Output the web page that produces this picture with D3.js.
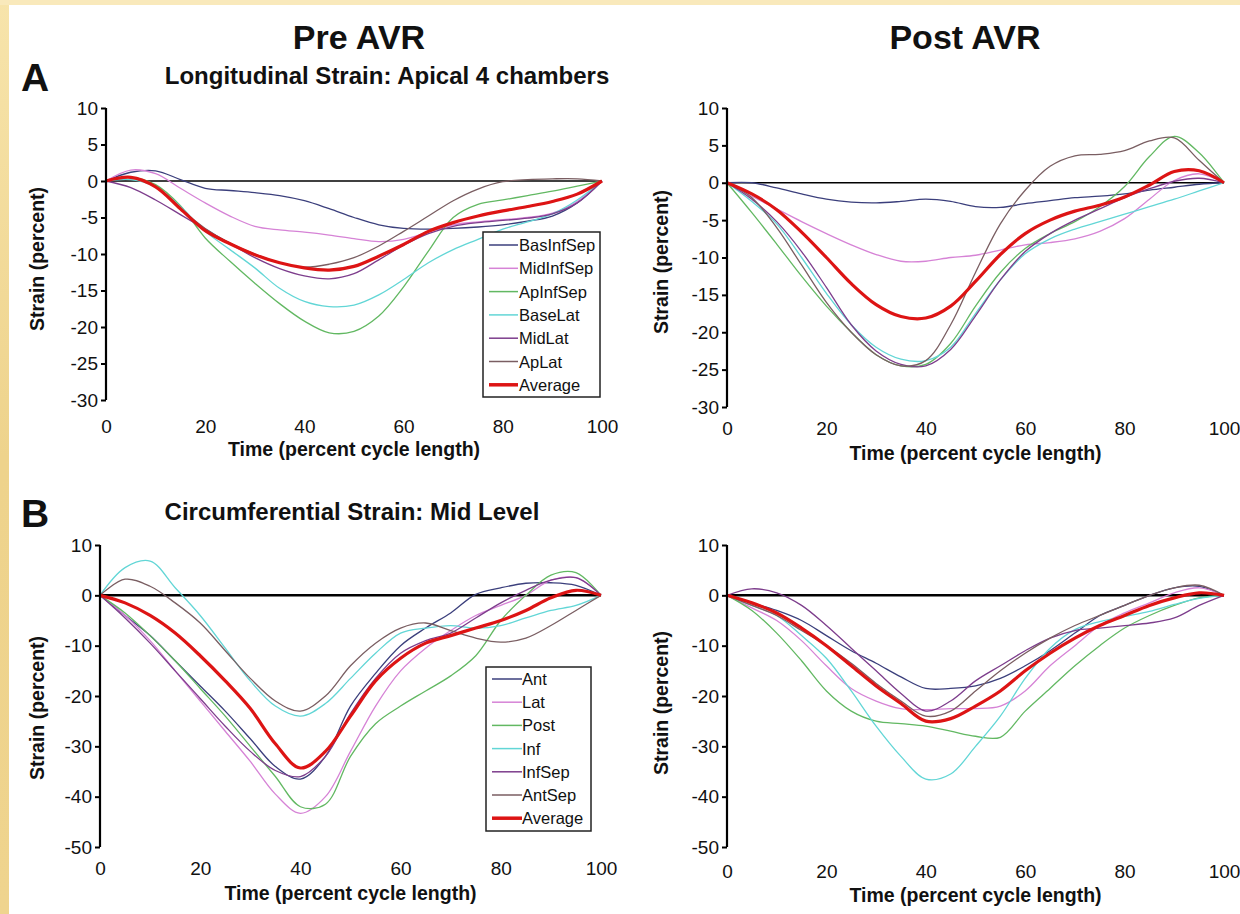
<!DOCTYPE html>
<html><head><meta charset="utf-8">
<script src="https://cdn.jsdelivr.net/npm/d3@7"></script>
<style>
body{margin:0;background:#fff;}
svg{display:block;}
text{font-family:"Liberation Sans",Arial,Helvetica,sans-serif;fill:#111;}
</style>
</head><body>
<svg id="c" width="1240" height="914"></svg>
<script>
// ---------- data ----------
const time = [0,5,10,15,20,25,30,35,40,45,50,55,60,65,70,75,80,85,90,95,100];
const xTicks = [0,20,40,60,80,100];
const yTicksLong = [10,5,0,-5,-10,-15,-20,-25,-30];
const yTicksCirc = [10,0,-10,-20,-30,-40,-50];
const namesLong = ["BasInfSep","MidInfSep","ApInfSep","BaseLat","MidLat","ApLat","Average"];
const namesCirc = ["Ant","Lat","Post","Inf","InfSep","AntSep","Average"];
const seriesColors = ["#3b3f7c","#d683d6","#62b862","#62d6d6","#7d3d8c","#7a5e62","#dd1414"];

// Pre AVR - Longitudinal strain
const preLongBasInfSep = [0,1.2,1.4,0.2,-1.0,-1.3,-1.6,-2.0,-2.7,-3.8,-5.0,-6.0,-6.5,-6.6,-6.5,-6.3,-6.0,-5.5,-4.8,-3.0,0];
const preLongMidInfSep = [0,1.5,1.0,-1.0,-3.0,-4.8,-6.2,-6.7,-7.0,-7.4,-7.9,-8.3,-8.0,-7.0,-6.0,-5.6,-5.3,-5.0,-4.4,-2.8,0];
const preLongApInfSep  = [0,0.5,-0.5,-3.4,-7.8,-11.0,-14.0,-16.8,-19.2,-20.8,-20.6,-18.5,-14.5,-9.6,-5.0,-3.2,-2.6,-2.0,-1.4,-0.7,0];
const preLongBaseLat   = [0,0.2,-0.8,-3.5,-6.9,-9.4,-11.9,-14.7,-16.5,-17.2,-17.0,-15.6,-13.5,-11.2,-9.4,-8.0,-6.6,-5.6,-4.5,-2.6,0];
const preLongMidLat    = [0,-0.9,-2.6,-4.6,-6.6,-8.6,-10.5,-12.0,-13.0,-13.4,-12.7,-10.8,-8.8,-7.2,-6.2,-5.7,-5.4,-5.1,-4.5,-3.0,0];
const preLongApLat     = [0,0.5,-0.8,-3.8,-6.5,-8.5,-10.0,-11.2,-11.8,-11.4,-10.5,-8.9,-6.9,-4.8,-2.7,-1.1,-0.1,0.2,0.3,0.3,0];
const preLongAverage   = [0,0.5,-0.8,-3.8,-6.8,-8.6,-10.1,-11.2,-11.9,-12.2,-11.7,-10.3,-8.7,-6.9,-5.7,-4.8,-4.1,-3.5,-2.8,-1.8,0];

// Post AVR - Longitudinal strain
const postLongBasInfSep = [0,0,-0.7,-1.5,-2.2,-2.6,-2.7,-2.5,-2.2,-2.5,-3.2,-3.3,-2.8,-2.4,-2.0,-1.8,-1.5,-1.0,-0.6,-0.2,0];
const postLongMidInfSep = [0,-1.8,-3.5,-5.2,-6.8,-8.3,-9.6,-10.5,-10.5,-10.0,-9.7,-9.0,-8.3,-8.0,-7.5,-6.5,-4.8,-2.2,0.3,1.2,0];
const postLongApInfSep  = [0,-4.0,-8.2,-12.5,-16.5,-20.0,-23.0,-24.5,-24.3,-21.5,-16.5,-12.0,-8.8,-6.8,-5.2,-3.2,-0.5,3.5,6.2,4.0,0];
const postLongBaseLat   = [0,-2.5,-5.5,-10.0,-14.8,-19.0,-22.0,-23.6,-23.8,-22.0,-17.5,-13.0,-9.5,-7.5,-6.2,-5.2,-4.2,-3.2,-2.2,-1.1,0];
const postLongMidLat    = [0,-2.2,-5.2,-9.2,-14.0,-19.0,-22.5,-24.3,-24.5,-22.3,-17.8,-13.0,-9.2,-6.8,-5.0,-3.5,-2.0,-0.8,0.2,0.6,0];
const postLongApLat     = [0,-2.0,-6.0,-11.0,-16.0,-20.0,-23.0,-24.5,-23.8,-19.0,-12.0,-5.5,-1.0,2.2,3.6,3.8,4.3,5.6,6.0,3.0,0];
const postLongAverage   = [0,-1.5,-3.6,-6.6,-10.0,-13.5,-16.3,-17.9,-18.1,-16.5,-13.2,-9.6,-6.8,-5.0,-3.8,-3.0,-1.9,-0.3,1.5,1.6,0];

// Pre AVR - Circumferential strain
const preCircAnt    = [0,-4.0,-8.0,-13.0,-18.0,-23.0,-28.5,-34.0,-36.5,-32.0,-22.0,-15.5,-10.0,-6.5,-3.5,0.2,1.5,2.4,2.5,2.0,0];
const preCircLat    = [0,-4.0,-9.0,-15.0,-21.0,-27.0,-33.0,-39.5,-43.3,-40.0,-31.0,-22.0,-15.0,-10.5,-7.0,-4.0,-2.0,0.0,3.0,3.5,0];
const preCircPost   = [0,-3.5,-8.0,-13.0,-18.5,-24.0,-30.0,-36.0,-42.0,-41.5,-32.0,-25.5,-22.0,-19.0,-16.0,-12.0,-5.0,0.0,4.0,4.5,0];
const preCircInf    = [0,5.5,6.8,1.5,-4.0,-10.5,-17.0,-22.0,-24.0,-21.5,-16.5,-11.5,-7.5,-6.5,-6.0,-6.5,-6.0,-4.5,-3.0,-2.0,0];
const preCircInfSep = [0,-4.5,-9.5,-15.0,-20.5,-26.0,-31.0,-34.8,-36.0,-32.0,-23.5,-16.5,-11.5,-9.0,-7.5,-4.5,-1.5,1.0,3.0,3.5,0];
const preCircAntSep = [0,3.2,1.8,-1.5,-5.5,-11.0,-16.5,-21.0,-23.0,-20.0,-14.0,-9.5,-6.5,-5.5,-7.0,-8.5,-9.3,-8.5,-6.0,-3.0,0];
const preCircAverage= [0,-1.5,-4.0,-7.5,-12.0,-17.0,-22.5,-29.5,-34.3,-31.0,-24.0,-17.0,-12.5,-9.5,-8.0,-6.5,-5.0,-3.0,-0.5,1.0,0];

// Post AVR - Circumferential strain
const postCircAnt    = [0,-1.5,-3.0,-5.0,-8.0,-11.0,-13.5,-16.2,-18.5,-18.5,-18.0,-16.5,-14.0,-11.0,-7.5,-4.0,-2.0,0.0,1.5,1.8,0];
const postCircLat    = [0,-2.5,-5.0,-9.0,-14.0,-18.5,-21.0,-22.5,-22.7,-22.5,-22.5,-22.0,-19.0,-14.0,-10.0,-6.0,-3.5,-1.5,0.5,1.5,0];
const postCircPost   = [0,-3.0,-7.5,-13.0,-19.0,-23.0,-25.0,-25.5,-26.0,-27.0,-28.0,-28.2,-23.0,-18.5,-14.0,-10.0,-6.5,-4.0,-2.0,-0.5,0];
const postCircInf    = [0,-2.0,-4.0,-8.0,-12.5,-19.0,-26.0,-32.0,-36.5,-35.5,-30.0,-24.0,-16.5,-10.5,-6.8,-5.2,-4.2,-3.2,-1.8,-0.6,0];
const postCircInfSep = [0,1.3,0.5,-2.0,-6.0,-10.5,-15.0,-19.5,-23.0,-21.0,-17.0,-14.0,-11.0,-8.5,-7.0,-6.5,-6.0,-5.5,-4.5,-2.0,0];
const postCircAntSep = [0,-2.0,-4.0,-7.0,-10.0,-13.5,-17.5,-21.0,-24.0,-23.0,-19.0,-15.0,-11.5,-8.5,-6.0,-4.0,-2.0,0.0,1.5,2.0,0];
const postCircAverage= [0,-1.5,-3.5,-6.5,-10.0,-14.0,-18.0,-21.5,-25.0,-24.5,-22.0,-19.0,-15.0,-11.5,-8.5,-6.0,-4.0,-2.0,-0.5,0.5,0];

// ---------- layout ----------
const panels = [
  {series:[preLongBasInfSep,preLongMidInfSep,preLongApInfSep,preLongBaseLat,preLongMidLat,preLongApLat,preLongAverage],
   names:namesLong, yDomain:[-30,10], yTicks:yTicksLong, x0:106, x1:602, yTop:108, yBot:400,
   zeroW:1.5, xLabY:426, xTitY:449, yTitX:37, yTitY:259,
   legend:{x:483,y:232,w:117,h:165,row0:245,step:23.3,lx0:489,lx1:518,tx:519}},
  {series:[postLongBasInfSep,postLongMidInfSep,postLongApInfSep,postLongBaseLat,postLongMidLat,postLongApLat,postLongAverage],
   names:namesLong, yDomain:[-30,10], yTicks:yTicksLong, x0:727, x1:1224, yTop:108, yBot:407,
   zeroW:1.5, xLabY:428, xTitY:453, yTitX:661, yTitY:262, legend:null},
  {series:[preCircAnt,preCircLat,preCircPost,preCircInf,preCircInfSep,preCircAntSep,preCircAverage],
   names:namesCirc, yDomain:[-50,10], yTicks:yTicksCirc, x0:100, x1:601, yTop:545, yBot:847,
   zeroW:2.5, xLabY:868, xTitY:893, yTitX:37, yTitY:708,
   legend:{x:486,y:667,w:105,h:164,row0:679,step:23.2,lx0:492,lx1:522,tx:522}},
  {series:[postCircAnt,postCircLat,postCircPost,postCircInf,postCircInfSep,postCircAntSep,postCircAverage],
   names:namesCirc, yDomain:[-50,10], yTicks:yTicksCirc, x0:727, x1:1224, yTop:545, yBot:847,
   zeroW:2.5, xLabY:871, xTitY:895, yTitX:661, yTitY:703, legend:null}
];

const svg = d3.select("#c");

// background frame
const bg = svg.append("defs").append("linearGradient").attr("id","frameG").attr("x1",0).attr("x2",0).attr("y1",0).attr("y2",1);
bg.append("stop").attr("offset","0%").attr("stop-color","#f7e4ab");
bg.append("stop").attr("offset","50%").attr("stop-color","#eed38c");
bg.append("stop").attr("offset","100%").attr("stop-color","#efd48e");
svg.append("rect").attr("width",1240).attr("height",914).attr("fill","url(#frameG)");
svg.append("rect").attr("x",0).attr("y",0).attr("width",1240).attr("height",5).attr("fill","#f9e9bb");
svg.append("rect").attr("x",9).attr("y",5).attr("width",1231).attr("height",909).attr("fill","#ffffff");

// headings
svg.append("text").attr("x",359).attr("y",37).attr("text-anchor","middle").attr("dominant-baseline","central")
  .style("font-size","34px").style("font-weight","bold").text("Pre AVR");
svg.append("text").attr("x",965).attr("y",37).attr("text-anchor","middle").attr("dominant-baseline","central")
  .style("font-size","34px").style("font-weight","bold").text("Post AVR");
svg.append("text").attr("x",21).attr("y",77).attr("dominant-baseline","central")
  .style("font-size","39px").style("font-weight","bold").text("A");
svg.append("text").attr("x",21).attr("y",513).attr("dominant-baseline","central")
  .style("font-size","39px").style("font-weight","bold").text("B");
svg.append("text").attr("x",387).attr("y",75).attr("text-anchor","middle").attr("dominant-baseline","central")
  .style("font-size","24px").style("font-weight","bold").text("Longitudinal Strain: Apical 4 chambers");
svg.append("text").attr("x",352).attr("y",511).attr("text-anchor","middle").attr("dominant-baseline","central")
  .style("font-size","24px").style("font-weight","bold").text("Circumferential Strain: Mid Level");

panels.forEach(p => {
  const x = d3.scaleLinear().domain([0,100]).range([p.x0,p.x1]);
  const y = d3.scaleLinear().domain(p.yDomain).range([p.yBot,p.yTop]);
  const g = svg.append("g");

  // zero line
  g.append("line").attr("x1",x(0)).attr("x2",x(100)).attr("y1",y(0)).attr("y2",y(0))
    .attr("stroke","#000").attr("stroke-width",p.zeroW);

  // series
  const line = d3.line().x((d,i)=>x(time[i])).y(d=>y(d)).curve(d3.curveCatmullRom.alpha(0.5));
  p.series.forEach((s,i) => {
    g.append("path").attr("d",line(s)).attr("fill","none")
      .attr("stroke",seriesColors[i]).attr("stroke-width", i===6 ? 3.2 : 1.3)
      .attr("stroke-linejoin","round");
  });

  // y axis
  const ya = d3.axisLeft(y).tickValues(p.yTicks).tickSize(5).tickPadding(3).tickFormat(d=>String(d));
  const yg = g.append("g").attr("transform",`translate(${p.x0},0)`).call(ya);
  yg.select(".domain").attr("stroke","#000").attr("stroke-width",2.2).attr("d",`M0,${p.yTop}V${p.yBot}`);
  yg.selectAll(".tick line").attr("stroke","#000").attr("stroke-width",2);
  yg.selectAll(".tick text").style("font-size","19px").style("font-family","'Liberation Sans',Arial,sans-serif").attr("fill","#111");

  // x axis labels (no line)
  const xa = d3.axisBottom(x).tickValues(xTicks).tickSize(0).tickPadding(0).tickFormat(d=>String(d));
  const xg = g.append("g").attr("transform",`translate(0,${p.xLabY})`).call(xa);
  xg.select(".domain").remove();
  xg.selectAll(".tick text").attr("dy",null).attr("dominant-baseline","central")
    .style("font-size","19px").style("font-family","'Liberation Sans',Arial,sans-serif").attr("fill","#111");

  // axis titles
  g.append("text").attr("x",(p.x0+p.x1)/2).attr("y",p.xTitY).attr("text-anchor","middle").attr("dominant-baseline","central")
    .style("font-size","19.5px").style("font-weight","bold").text("Time (percent cycle length)");
  g.append("text").attr("transform",`translate(${p.yTitX},${p.yTitY}) rotate(-90)`).attr("text-anchor","middle").attr("dominant-baseline","central")
    .style("font-size","19.5px").style("font-weight","bold").text("Strain (percent)");

  // legend
  if (p.legend) {
    const L = p.legend;
    const lg = g.append("g");
    lg.append("rect").attr("x",L.x).attr("y",L.y).attr("width",L.w).attr("height",L.h)
      .attr("fill","#fff").attr("stroke","#222").attr("stroke-width",1.5);
    p.names.forEach((n,i) => {
      const cy = L.row0 + i*L.step;
      lg.append("line").attr("x1",L.lx0).attr("x2",L.lx1).attr("y1",cy).attr("y2",cy)
        .attr("stroke",seriesColors[i]).attr("stroke-width", i===6 ? 3.5 : 1.5);
      lg.append("text").attr("x",L.tx).attr("y",cy).attr("dominant-baseline","central")
        .style("font-size","16.5px").text(n);
    });
  }
});
</script>
</body></html>
